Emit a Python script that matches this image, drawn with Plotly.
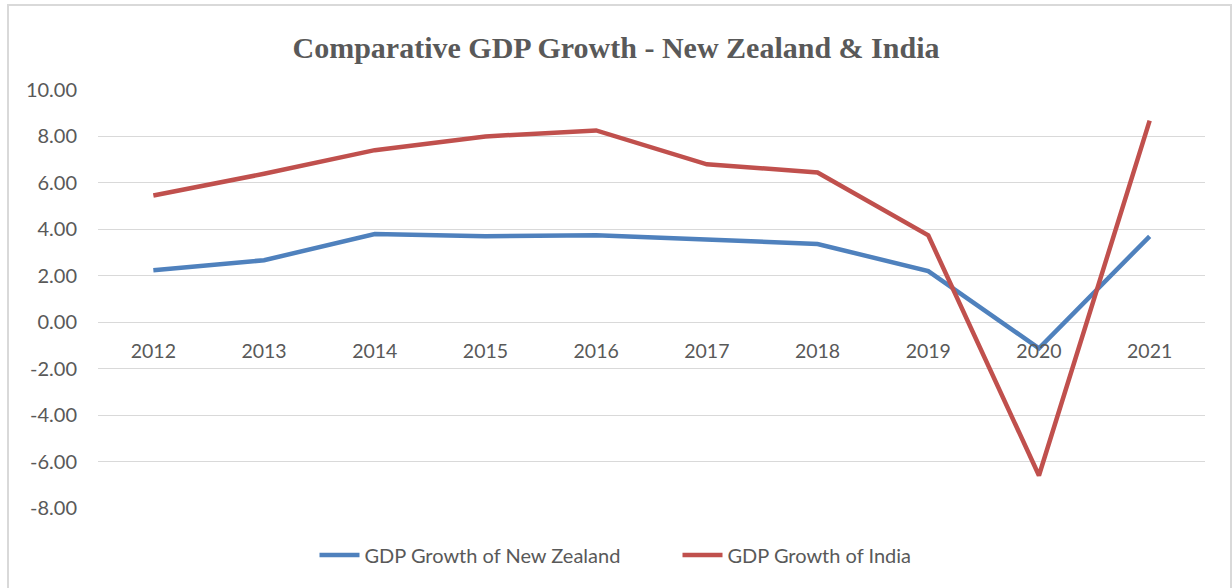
import plotly.graph_objects as go

years = ["2012", "2013", "2014", "2015", "2016", "2017", "2018", "2019", "2020", "2021"]
nz_growth = [2.24, 2.67, 3.80, 3.70, 3.75, 3.58, 3.37, 2.20, -1.12, 3.70]
india_growth = [5.46, 6.39, 7.41, 8.00, 8.26, 6.80, 6.45, 3.74, -6.60, 8.68]
y_ticks = [-8, -6, -4, -2, 0, 2, 4, 6, 8, 10]
y_tick_text = [f"{v:.2f}" for v in y_ticks]

W, H = 1232, 588
L, R, T, B = 98, 27, 90, 80
pw, ph = W - L - R, H - T - B
FONT = "Lato, Carlito, sans-serif"

fig = go.Figure()
fig.add_trace(go.Scatter(x=years, y=nz_growth, mode="lines", name="GDP Growth of New Zealand",
                         line=dict(color="#4F81BD", width=4.5)))
fig.add_trace(go.Scatter(x=years, y=india_growth, mode="lines", name="GDP Growth of India",
                         line=dict(color="#C0504D", width=4.5)))

ymin, ymax = -8, 10
fig.update_layout(
    width=W, height=H,
    margin=dict(l=L, r=R, t=T, b=B),
    paper_bgcolor="white", plot_bgcolor="white",
    title=dict(text="<b>Comparative GDP Growth - New Zealand &amp; India</b>",
               font=dict(family="Liberation Serif, Times New Roman, serif", size=30, color="#595959"),
               x=0.5, xanchor="center", y=1 - 47 / H, yanchor="middle"),
    xaxis=dict(type="category", range=[-0.5, 9.5], showgrid=False, zeroline=False,
               showline=False, ticks="", anchor="free",
               position=(0 - ymin) / (ymax - ymin), ticklabelstandoff=15,
               tickfont=dict(family=FONT, size=19.5, color="#595959")),
    yaxis=dict(range=[ymin, ymax], tickvals=y_ticks, ticktext=y_tick_text,
               showgrid=True, gridcolor="#D9D9D9", gridwidth=1.3, zeroline=False,
               showline=False, ticks="", ticklabelstandoff=20,
               tickfont=dict(family=FONT, size=20, color="#595959")),
    legend=dict(orientation="h", x=0.5 + 26 / pw, xanchor="center", y=-(B - 33) / ph, yanchor="middle",
                font=dict(family=FONT, size=20, color="#595959"),
                itemwidth=40, traceorder="normal", entrywidth=308, entrywidthmode="pixels"),
    showlegend=True,
)

fig.add_shape(type="rect", xref="paper", yref="paper",
              x0=(8 - L) / pw, x1=(1231 - L) / pw,
              y0=(H - B - 600) / ph, y1=(H - B - 5) / ph,
              line=dict(color="#D9D9D9", width=2), fillcolor="rgba(0,0,0,0)", layer="below")

fig.write_html("out.html")
